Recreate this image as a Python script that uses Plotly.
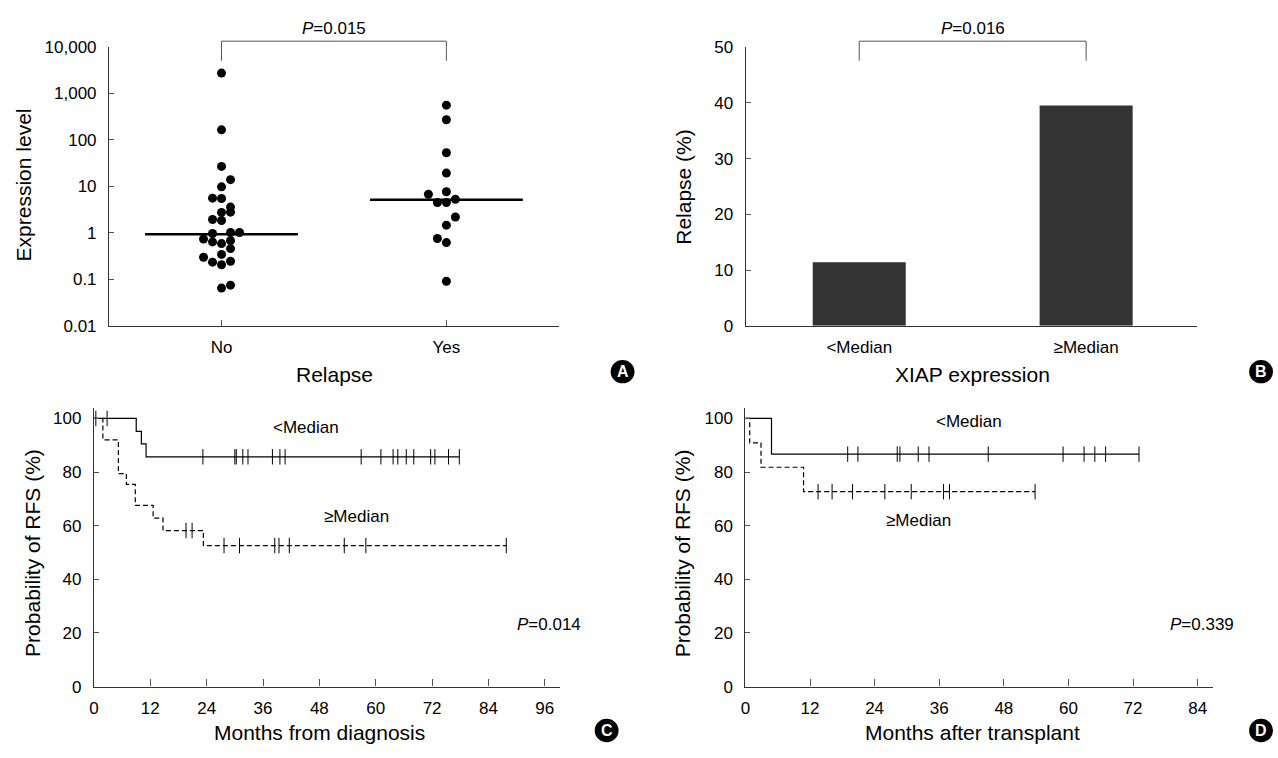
import numpy as np
import plotly.graph_objects as go

# ---------------- data ----------------
# Panel A: expression level by relapse status
relapse_cats = ["No", "Yes"]
no_values = [2750, 165, 27, 14, 9.8, 5.6, 5.5, 3.6, 2.8, 2.76, 1.94, 1.85, 0.97, 1.02, 1.02,
             0.74, 0.64, 0.68, 0.59, 0.46, 0.345, 0.30, 0.235, 0.246, 0.206, 0.065, 0.075]
yes_values = [560, 272, 53, 19.4, 6.8, 7.7, 4.5, 4.5, 5.3, 2.2, 1.47, 0.76, 0.62, 0.091]
median_levels = [0.94, 5.2]
a_ticks = [0.01, 0.1, 1, 10, 100, 1000, 10000]
a_ticktext = ["0.01", "0.1", "1", "10", "100", "1,000", "10,000"]

# Panel B: relapse (%) by XIAP expression
xiap_cats = ["<Median", "\u2265Median"]
relapse_pct = [11.4, 39.5]

# Panel C: RFS from diagnosis
c_low_events = [9.0, 10.1, 11.1]
c_low_surv = [95.2, 90.5, 85.7]
c_low_censor = [2.8, 23.2, 30.0, 30.3, 31.7, 32.8, 38.0, 39.6, 40.7, 56.9, 61.1, 63.7,
                64.7, 66.5, 68.1, 71.7, 72.6, 75.5, 77.8]
c_high_events = [1.9, 5.2, 6.9, 8.8, 12.6, 14.7, 23.3]
c_high_surv = [92.0, 79.4, 75.4, 67.6, 62.8, 58.2, 52.6]
c_high_censor = [0.4, 19.6, 20.9, 27.7, 31.0, 38.5, 39.4, 41.6, 53.3, 57.9, 87.8]

# Panel D: RFS after transplant
d_low_events = [4.85]
d_low_surv = [86.7]
d_low_censor = [19.0, 20.9, 28.2, 28.7, 32.1, 34.1, 45.1, 59.0, 62.9, 64.9, 66.9, 73.1]
d_high_events = [0.8, 2.9, 10.8]
d_high_surv = [90.9, 81.8, 72.7]
d_high_censor = [13.5, 16.1, 19.9, 25.9, 30.8, 36.8, 37.9, 53.8]

p_values = ["0.015", "0.016", "0.014", "0.339"]

# display jitter (category units) for the dot plot
no_jitter = [0, 0, 0, 1, 0, -1, 0, 1, 1, 0, -1, 0, -1, 1, 2, -2, -1, 1, 0, 1, 0, -2, -1, 1, 0, 0, 1]
yes_jitter = [0, 0, 0, 0, -2, 0, -1, 0, 1, 1, 0, -1, 0, 0]
JIT = 0.04

# ---------------- layout helpers ----------------
W, H = 1278, 758
FONT = "Liberation Sans, Arial, Helvetica, sans-serif"
INK = "#000000"
AX = "#333333"


def px(x):
    return x / W


def py(y):
    return 1 - y / H


fig = go.Figure()

# ---- Panel A ----
fig.add_trace(go.Scatter(
    x=[0 + j * JIT for j in no_jitter], y=no_values, mode="markers",
    marker=dict(color=INK, size=9), xaxis="x", yaxis="y", showlegend=False))
fig.add_trace(go.Scatter(
    x=[1 + j * JIT for j in yes_jitter], y=yes_values, mode="markers",
    marker=dict(color=INK, size=9), xaxis="x", yaxis="y", showlegend=False))
for i, m in enumerate(median_levels):
    fig.add_trace(go.Scatter(x=[i - 0.34, i + 0.34], y=[m, m], mode="lines",
                             line=dict(color=INK, width=2.5), xaxis="x", yaxis="y",
                             showlegend=False))

# ---- Panel B ----
fig.add_trace(go.Bar(x=[0, 1], y=relapse_pct, width=0.41, marker=dict(color="#333333", line=dict(width=0)),
                     xaxis="x2", yaxis="y2", showlegend=False))


# ---- KM helper ----
def km_traces(events, surv, censor, xa, ya, dash):
    end = max(censor)
    xs = [0] + list(events) + [end]
    ys = [100] + list(surv) + [surv[-1]]
    fig.add_trace(go.Scatter(x=xs, y=ys, mode="lines", line_shape="hv",
                             line=dict(color=INK, width=1.2, dash=dash),
                             xaxis=xa, yaxis=ya, showlegend=False))
    ev = np.array(events)
    sv = np.array([100] + list(surv))
    cy = [sv[np.searchsorted(ev, t, side="right")] for t in censor]
    fig.add_trace(go.Scatter(x=censor, y=cy, mode="markers",
                             marker=dict(symbol="line-ns", size=11, line=dict(color=INK, width=1)),
                             xaxis=xa, yaxis=ya, showlegend=False))


km_traces(c_low_events, c_low_surv, c_low_censor, "x3", "y3", "solid")
km_traces(c_high_events, c_high_surv, c_high_censor, "x3", "y3", "5px,3px")
km_traces(d_low_events, d_low_surv, d_low_censor, "x4", "y4", "solid")
km_traces(d_high_events, d_high_surv, d_high_censor, "x4", "y4", "5px,3px")

# ---------------- axes ----------------
tickfont = dict(family=FONT, size=17, color=INK)
common = dict(showline=True, linecolor=AX, linewidth=1.2, showgrid=False, zeroline=False,
              ticks="inside", tickcolor="#555555", tickwidth=1, tickfont=tickfont, fixedrange=True)

fig.update_layout(
    xaxis=dict(domain=[px(104.5), px(556)], anchor="y", range=[-0.5, 1.5],
               tickvals=[0, 1], ticktext=relapse_cats, ticklen=6, ticklabelstandoff=6, **common),
    yaxis=dict(domain=[py(325), py(39)], anchor="x", type="log", range=[-2, 4],
               tickvals=a_ticks, ticktext=a_ticktext, ticklen=5, ticklabelstandoff=8, **common),
    xaxis2=dict(domain=[px(743.7), px(1197)], anchor="y2", range=[-0.5, 1.49],
                tickvals=[0, 1], ticktext=xiap_cats, ticklen=0, ticklabelstandoff=6, **common),
    yaxis2=dict(domain=[py(325), py(39)], anchor="x2", range=[0, 50],
                tickvals=[0, 10, 20, 30, 40, 50], ticklen=5, ticklabelstandoff=8, **common),
    xaxis3=dict(domain=[px(89.3), px(557)], anchor="y3", range=[0, 99.2],
                tickvals=list(range(0, 97, 12)), ticklen=7, ticklabelstandoff=6, **common),
    yaxis3=dict(domain=[py(695), py(409)], anchor="x3", range=[0, 104],
                tickvals=list(range(0, 101, 20)), ticklen=5, ticklabelstandoff=8, **common),
    xaxis4=dict(domain=[px(743.3), px(1212.5)], anchor="y4", range=[0, 86.8],
                tickvals=list(range(0, 85, 12)), ticklen=7, ticklabelstandoff=6, **common),
    yaxis4=dict(domain=[py(695), py(409)], anchor="x4", range=[0, 104],
                tickvals=list(range(0, 101, 20)), ticklen=5, ticklabelstandoff=8, **common),
)

# ---------------- annotations ----------------
ann = []
shapes = []
TF = dict(family=FONT, size=21, color=INK)


def title(text, x, y, angle=0):
    ann.append(dict(text=text, x=px(x), y=py(y), xref="paper", yref="paper", showarrow=False,
                    xanchor="center", yanchor="middle", textangle=angle, font=TF))


title("Expression level", 19, 180, -90)
title("Relapse", 331, 375)
title("Relapse (%)", 681, 182, -90)
title("XIAP expression", 971, 375)
title("Probability of RFS (%)", 27, 558, -90)
title("Months from diagnosis", 316, 742)
title("Probability of RFS (%)", 680, 558, -90)
title("Months after transplant", 971, 742)

SF = dict(family=FONT, size=17, color=INK)
# brackets + P values for A and B
for xa, pv in (("x", p_values[0]), ("x2", p_values[1])):
    shapes.append(dict(type="path", xref=xa, yref="paper",
                       path=f"M 0,{py(53)} L 0,{py(33)} L 1,{py(33)} L 1,{py(53)}",
                       line=dict(color="#555555", width=1)))
    ann.append(dict(text=f"<i>P</i>={pv}", x=0.5, y=py(20), xref=xa, yref="paper", showarrow=False,
                    xanchor="center", yanchor="middle", font=SF))

# KM labels
ann += [
    dict(text="<Median", x=45.1, y=96.7, xref="x3", yref="y3", showarrow=False, font=SF),
    dict(text="\u2265Median", x=55.9, y=63.6, xref="x3", yref="y3", showarrow=False, font=SF),
    dict(text=f"<i>P</i>={p_values[2]}", x=97.0, y=23.3, xref="x3", yref="y3", showarrow=False, font=SF),
    dict(text="<Median", x=41.6, y=98.8, xref="x4", yref="y4", showarrow=False, font=SF),
    dict(text="\u2265Median", x=32.2, y=62.0, xref="x4", yref="y4", showarrow=False, font=SF),
    dict(text=f"<i>P</i>={p_values[3]}", x=84.8, y=23.3, xref="x4", yref="y4", showarrow=False, font=SF),
]

# panel letters
R = 12
for letter, cx, cy in (("A", 620, 372), ("B", 1261, 372), ("C", 604, 740), ("D", 1261, 740)):
    shapes.append(dict(type="circle", xref="paper", yref="paper",
                       x0=px(cx - R), x1=px(cx + R), y0=py(cy + R), y1=py(cy - R),
                       fillcolor="#000000", line=dict(width=0)))
    ann.append(dict(text=f"<b>{letter}</b>", x=px(cx), y=py(cy), xref="paper", yref="paper",
                    showarrow=False, xanchor="center", yanchor="middle",
                    font=dict(family=FONT, size=16, color="#ffffff")))

fig.update_layout(
    width=W, height=H, margin=dict(l=0, r=0, t=0, b=0),
    paper_bgcolor="white", plot_bgcolor="white",
    annotations=ann, shapes=shapes, showlegend=False,
    font=dict(family=FONT, color=INK),
)

fig.write_html("out.html", config={"displayModeBar": False},
               post_script="document.body.style.margin='0';document.body.style.overflow='hidden';")
